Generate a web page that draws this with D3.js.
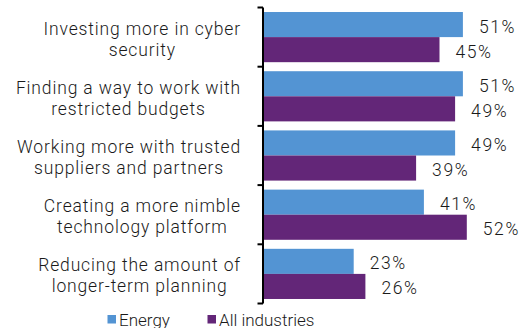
<!DOCTYPE html>
<meta charset="utf-8">
<style>
    body { margin: 0; background: #fff; }
    text { font-family: Roboto, "Liberation Sans", sans-serif; font-weight: 300; fill: #1a1a1a; }
</style>
<body>
<script src="https://cdn.jsdelivr.net/npm/d3@7"></script>
<script>
    var width = 522,
        height = 328

    // data
    var categories = ["cyber", "budgets", "partners", "platform", "planning"]
    var categoryLines = [
        ["Investing more in cyber", "security"],
        ["Finding a way to work with", "restricted budgets"],
        ["Working more with trusted", "suppliers and partners"],
        ["Creating a more nimble", "technology platform"],
        ["Reducing the amount of", "longer-term planning"]
    ]
    var seriesNames = ["Energy", "All industries"]
    var energy = [51, 51, 49, 41, 23]
    var allIndustries = [45, 49, 39, 52, 26]
    var colors = ["#5394d3", "#632678"]

    var svg = d3.select("body").append("svg")
        .attr("width", width)
        .attr("height", height)

    var y = d3.scaleBand()
        .domain(categories)
        .range([7.5, 303.5])

    var yInner = d3.scaleBand()
        .domain(seriesNames)
        .range([0, y.bandwidth()])
        .paddingOuter(0.18)

    var x = d3.scaleLinear()
        .domain([0, 60])
        .range([264, 498])

    var rows = categories.map(function (c, i) {
        return { cat: c, lines: categoryLines[i], values: [energy[i], allIndustries[i]] }
    })

    var group = svg.selectAll(".row")
        .data(rows)
        .enter().append("g")
        .attr("class", "row")
        .attr("transform", function (d) { return "translate(0," + y(d.cat) + ")" })

    group.selectAll("rect")
        .data(function (d) { return d.values.map(function (v, j) { return { s: seriesNames[j], v: v, j: j } }) })
        .enter().append("rect")
        .attr("x", x(0))
        .attr("y", function (d) { return yInner(d.s) })
        .attr("width", function (d) { return x(d.v) - x(0) })
        .attr("height", yInner.bandwidth())
        .attr("fill", function (d) { return colors[d.j] })

    group.selectAll(".val")
        .data(function (d) { return d.values.map(function (v, j) { return { s: seriesNames[j], v: v } }) })
        .enter().append("text")
        .attr("class", "val")
        .attr("x", function (d) { return x(d.v) + 16 })
        .attr("y", function (d) { return yInner(d.s) + yInner.bandwidth() / 2 + 8 })
        .style("font-size", "17.5px")
        .style("letter-spacing", "1.6px")
        .text(function (d) { return d.v + "%" })

    // category labels: lines centred in a block whose right edge is fixed
    var labelRight = 241
    group.each(function (d) {
        var g = d3.select(this)
        var mid = y.bandwidth() / 2
        var texts = g.selectAll(".cat")
            .data(d.lines)
            .enter().append("text")
            .attr("class", "cat")
            .attr("text-anchor", "middle")
            .attr("y", function (l, k) { return mid - 2.5 + k * 21 })
            .style("font-size", "17.5px")
            .style("letter-spacing", "0.85px")
            .text(function (l) { return l })
        var w = 0
        texts.each(function () { w = Math.max(w, this.getComputedTextLength()) })
        texts.attr("x", labelRight - w / 2)
    })

    // axis line with ticks at band edges
    var axisX = 263
    svg.append("line")
        .attr("x1", axisX).attr("x2", axisX)
        .attr("y1", y.range()[0]).attr("y2", y.range()[1])
        .attr("stroke", "#000").attr("stroke-width", 2)

    var edges = categories.map(function (c) { return y(c) }).concat([y.range()[1]])
    svg.selectAll(".tick")
        .data(edges)
        .enter().append("line")
        .attr("class", "tick")
        .attr("x1", axisX - 5.5).attr("x2", axisX)
        .attr("y1", function (d) { return d }).attr("y2", function (d) { return d })
        .attr("stroke", "#000").attr("stroke-width", 2)

    // legend
    var legendX = [107.5, 207.5]
    var legend = svg.selectAll(".legend")
        .data(seriesNames)
        .enter().append("g")
        .attr("class", "legend")
        .attr("transform", function (d, i) { return "translate(" + legendX[i] + ",315)" })

    legend.append("rect")
        .attr("width", 8.5).attr("height", 8.5)
        .attr("fill", function (d, i) { return colors[i] })

    legend.append("text")
        .attr("x", 11.5)
        .attr("y", 10.5)
        .style("font-size", "17px")
        .text(function (d) { return d })
</script>
</body>
